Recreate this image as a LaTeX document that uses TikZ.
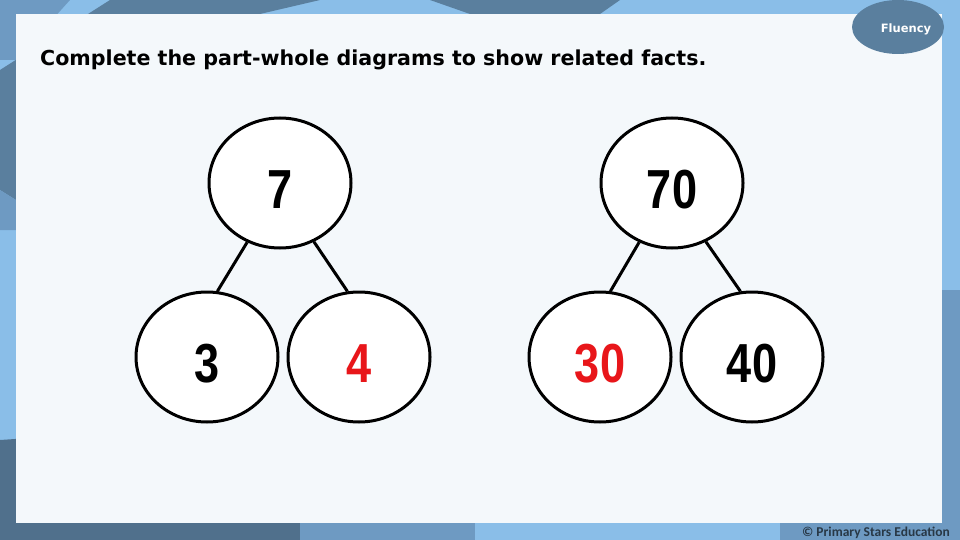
\documentclass[tikz,border=0pt]{standalone}
\usepackage{fontspec}
\usepackage{tikz}
\usetikzlibrary{shapes.geometric}
\setmainfont{DejaVu Sans}
\newfontfamily\DigitFont{Liberation Sans}[FakeStretch=0.82]
\newfontfamily\NoteFont{Carlito}
\definecolor{ColLight}{RGB}{138,190,232}
\definecolor{ColMid}{RGB}{110,154,194}
\definecolor{ColDark}{RGB}{90,127,158}
\definecolor{ColDeep}{RGB}{80,112,140}
\definecolor{ColPanel}{RGB}{244,248,251}
\definecolor{ColRed}{RGB}{232,22,26}
\tikzstyle{PartCircle}=[ellipse,draw=black,fill=white,line width=3pt,inner sep=0pt,
minimum width=142pt,minimum height=130pt,text height=50pt,text depth=0pt,
font=\DigitFont\bfseries\fontsize{55}{55}\selectfont]
\tikzstyle{PartLine}=[black,line width=3pt]
\tikzstyle{Missing}=[text=ColRed]
\begin{document}
\begin{tikzpicture}[x=1pt,y=-1pt]
        \useasboundingbox(0,0)rectangle(960,540);
        \fill[ColLight](0,0)rectangle(960,540);
        \fill[ColMid](0,0)--(70,0)--(16,60)--(0,60)--cycle;
        \fill[ColDark](110,0)--(320,0)--(260,14)--(16,200)--(0,190)--(0,70)--cycle;
        \fill[ColDark](430,0)--(620,0)--(600,14)--(470,14)--cycle;
        \fill[ColMid](0,190)--(16,200)--(16,230)--(0,230)--cycle;
        \fill[ColDeep](0,440)--(150,430)--(300,523)--(300,540)--(0,540)--cycle;
        \fill[ColMid](300,523)--(475,523)--(475,540)--(300,540)--cycle;
        \fill[ColMid](780,523)--(942,523)--(942,290)--(960,290)--(960,540)--(780,540)--cycle;
        \fill[ColPanel](16,14)rectangle(942,523);
        \node[ellipse,fill=ColDark,minimum width=92pt,minimum height=54pt,inner sep=0pt](tag)at(898,27){};
        \node[text=white,font=\bfseries\fontsize{11.5}{11.5}\selectfont](tagtext)at(906,29){Fluency};
        \node[anchor=base west,inner sep=0pt,font=\bfseries\fontsize{20.6}{20.6}\selectfont](title)at(40,66){Complete the part-whole diagrams to show related facts.};
        \node[PartCircle](w1)at(280,183){7};
        \node[PartCircle](p1)at(207,357){3};
        \node[PartCircle,Missing](q1)at(359,357){4};
        \node[PartCircle](w2)at(672,183){70};
        \node[PartCircle,Missing](p2)at(600,357){30};
        \node[PartCircle](q2)at(752,357){40};
        \draw[PartLine](w1.241)--(p1.81);
        \draw[PartLine](w1.300)--(q1.100);
        \draw[PartLine](w2.241)--(p2.81);
        \draw[PartLine](w2.300)--(q2.100);
        \node[anchor=base east,inner sep=0pt,text=ColDeep!50!black,font=\NoteFont\bfseries\fontsize{13.5}{13.5}\selectfont](credit)at(950,536){\textcopyright{} Primary Stars Education};
\end{tikzpicture}
\end{document}
